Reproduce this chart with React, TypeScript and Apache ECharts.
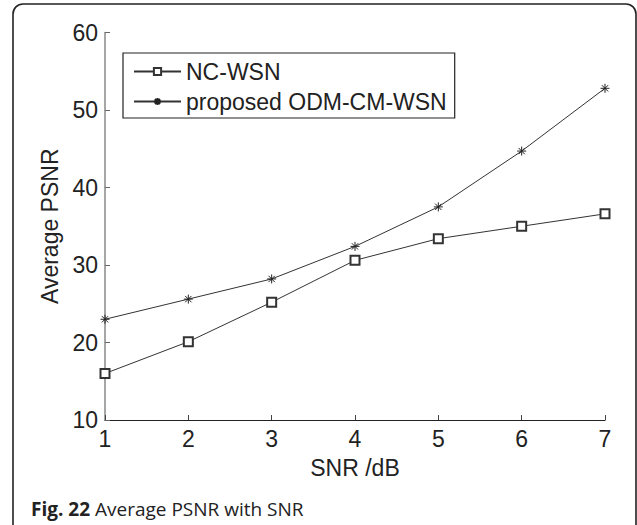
import React, { useEffect, useRef } from "react";
import * as echarts from "echarts";

const snr = [1, 2, 3, 4, 5, 6, 7];
const ncWsn = [16.0, 20.1, 25.2, 30.6, 33.4, 35.0, 36.6];
const odmCmWsn = [23.0, 25.6, 28.2, 32.4, 37.5, 44.7, 52.8];
const seriesNames = ["NC-WSN", "proposed ODM-CM-WSN"];
const xName = "SNR /dB";
const yName = "Average PSNR";

const FONT = "Liberation Sans, Arial, Helvetica, sans-serif";
const STAR = "path://M5,0L5,10M0,5L10,5M1.5,1.5L8.5,8.5M8.5,1.5L1.5,8.5";

export default function App() {
  const ref = useRef<HTMLDivElement>(null);
  useEffect(() => {
    if (!ref.current) return;
    const chart = echarts.init(ref.current, undefined, { renderer: "svg" });
    chart.setOption({
      animation: false,
      backgroundColor: "#ffffff",
      grid: { left: 105, right: 32, top: 32.5, bottom: 105, containLabel: false },
      legend: {
        orient: "vertical",
        left: 123,
        top: 53,
        padding: [7, 8, 5, 10],
        itemGap: 7,
        itemWidth: 47,
        itemHeight: 9,
        borderColor: "#222",
        borderWidth: 1.2,
        backgroundColor: "#fff",
        textStyle: { fontFamily: FONT, fontSize: 23, color: "#222" },
        data: seriesNames,
      },
      xAxis: {
        type: "value",
        min: 1,
        max: 7,
        interval: 1,
        name: xName,
        nameLocation: "middle",
        nameGap: 36,
        nameTextStyle: { fontFamily: FONT, fontSize: 23, color: "#222" },
        axisLine: { lineStyle: { color: "#222", width: 1.2 } },
        axisTick: { inside: true, length: 5, lineStyle: { color: "#444" } },
        axisLabel: { fontFamily: FONT, fontSize: 23, color: "#222", margin: 7 },
        splitLine: { show: false },
      },
      yAxis: {
        type: "value",
        min: 10,
        max: 60,
        interval: 10,
        name: yName,
        nameLocation: "middle",
        nameGap: 41,
        nameTextStyle: { fontFamily: FONT, fontSize: 23, color: "#222" },
        axisLine: { lineStyle: { color: "#888", width: 1.5 } },
        axisTick: { inside: true, length: 5, lineStyle: { color: "#666" } },
        axisLabel: { fontFamily: FONT, fontSize: 23, color: "#222", margin: 7 },
        splitLine: { show: false },
      },
      series: [
        {
          name: seriesNames[0],
          type: "line",
          data: snr.map((x, i) => [x, ncWsn[i]]),
          symbol: "emptyRect",
          symbolSize: 9,
          lineStyle: { color: "#333", width: 1 },
          itemStyle: { color: "#333", borderColor: "#333", borderWidth: 0.8 },
        },
        {
          name: seriesNames[1],
          type: "line",
          data: snr.map((x, i) => [x, odmCmWsn[i]]),
          symbol: STAR,
          symbolSize: 9,
          lineStyle: { color: "#333", width: 1 },
          itemStyle: { color: "none", borderColor: "#222", borderWidth: 1 },
        },
      ],
      graphic: [
        {
          type: "rect",
          shape: { x: 13, y: 4, width: 623, height: 580, r: 10 },
          style: { fill: "none", stroke: "#222", lineWidth: 1.6 },
          silent: true,
        },
        {
          type: "text",
          x: 31,
          y: 509,
          style: {
            text: "{b|Fig. 22} Average PSNR with SNR",
            fontFamily: "Open Sans, sans-serif",
            fontSize: 19,
            fill: "#222",
            verticalAlign: "middle",
            rich: {
              b: { fontFamily: "Open Sans, sans-serif", fontSize: 19, fontWeight: "bold", fill: "#222" },
            },
          },
        },
      ],
    });
    return () => chart.dispose();
  }, []);
  return (
    <div
      ref={ref}
      style={{ position: "fixed", left: 0, top: 0, width: 637, height: 525 }}
    />
  );
}
